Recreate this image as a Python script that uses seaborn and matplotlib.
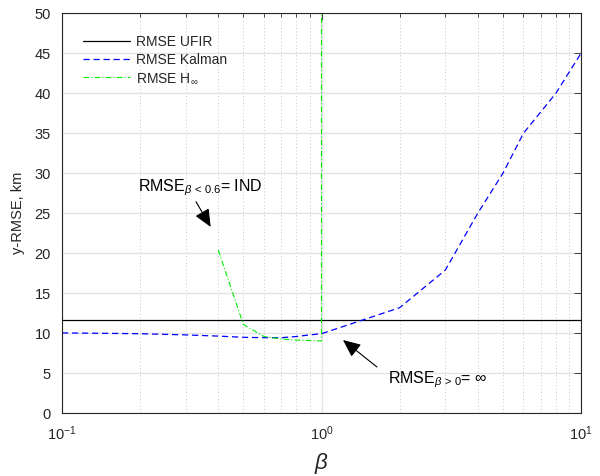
import matplotlib
matplotlib.use("Agg")
import matplotlib.pyplot as plt
import seaborn as sns
import numpy as np
import pandas as pd

# ---- data ----
beta_ufir = [0.1, 10]
rmse_ufir = [11.65, 11.65]

beta_kalman = [0.1, 0.2, 0.3, 0.4, 0.5, 0.6, 0.7, 0.8, 0.9, 1.0, 2, 3, 4, 5, 6, 8, 10]
rmse_kalman = [10.05, 9.95, 9.8, 9.65, 9.5, 9.45, 9.45, 9.6, 9.8, 9.95, 13.2, 17.9, 25.0, 30.0, 35.0, 40.0, 45.0]

beta_hinf = [0.4, 0.5, 0.6, 0.7, 0.8, 0.9, 1.0, 1.0]
rmse_hinf = [20.4, 11.1, 9.6, 9.3, 9.15, 9.1, 9.05, 60.0]

sns.set_theme(style="white")
plt.rcParams['font.family'] = ['Liberation Sans', 'DejaVu Sans']
plt.rcParams['mathtext.fontset'] = 'custom'
plt.rcParams['mathtext.rm'] = 'Liberation Sans'
plt.rcParams['mathtext.it'] = 'Liberation Sans:italic'
plt.rcParams['mathtext.sf'] = 'Liberation Sans'

fig = plt.figure(figsize=(6.0, 4.76), dpi=100)
ax = fig.add_axes([62 / 600, (476 - 413.3) / 476, 519 / 600, 400 / 476])

sns.lineplot(x=beta_ufir, y=rmse_ufir, ax=ax, color='black', lw=0.9,
             estimator=None, sort=False, label='RMSE UFIR')
sns.lineplot(x=beta_kalman, y=rmse_kalman, ax=ax, color='#0000ff', lw=0.9,
             estimator=None, sort=False, label='RMSE Kalman')
ax.lines[-1].set_dashes([5, 3])
sns.lineplot(x=beta_hinf, y=rmse_hinf, ax=ax, color='#00ee00', lw=0.8,
             estimator=None, sort=False, label=r'RMSE H$_\infty$')
ax.lines[-1].set_dashes([5, 2, 1, 2])

ax.set_xscale('log')
ax.set_xlim(0.1, 10)
ax.set_ylim(0, 50)
ax.set_yticks(np.arange(0, 51, 5))

ax.grid(True, which='major', axis='y', color='#e3e3e3', lw=1.0, ls='-')
ax.grid(True, which='major', axis='x', color='#e3e3e3', lw=1.0, ls='-')
ax.grid(True, which='minor', axis='x', color='#c4c4c4', lw=0.7, ls=(0, (1, 2.5)))
ax.set_axisbelow(True)

for s in ax.spines.values():
    s.set_color('#262626')
    s.set_linewidth(0.8)
ax.tick_params(which='both', direction='in', top=True, right=True,
               colors='#262626', labelsize=10.5, width=0.6)
ax.tick_params(which='major', length=5, pad=8)
ax.tick_params(which='minor', length=3)

ax.set_ylabel('y-RMSE, km', fontsize=10.5, color='#262626', labelpad=7)
ax.set_xlabel(r'$\beta$', fontsize=16, color='#262626', labelpad=6)

leg = ax.legend(loc='upper left', frameon=False, fontsize=10,
                handlelength=3.4, handletextpad=0.4, labelspacing=0.3,
                borderpad=0, borderaxespad=0,
                bbox_to_anchor=(0.0405, 0.946))

arrow_kw = dict(arrowstyle='-|>,head_length=0.9,head_width=0.4',
                color='black', lw=0.8, shrinkA=0, shrinkB=0)

ax.text(0.196, 27.8, r'RMSE$_{\beta\,<\,0.6}$= IND', fontsize=11.5,
        color='black', ha='left', va='baseline')
ax.annotate('', xy=(0.374, 23.3), xytext=(0.3284, 26.45), arrowprops=arrow_kw)

ax.text(1.809, 3.75, r'RMSE$_{\beta\,>\,0}$= $\infty$', fontsize=11.5,
        color='black', ha='left', va='baseline')
ax.annotate('', xy=(1.21, 9.16), xytext=(1.636, 5.79), arrowprops=arrow_kw)

fig.savefig('out.png', dpi=100)
